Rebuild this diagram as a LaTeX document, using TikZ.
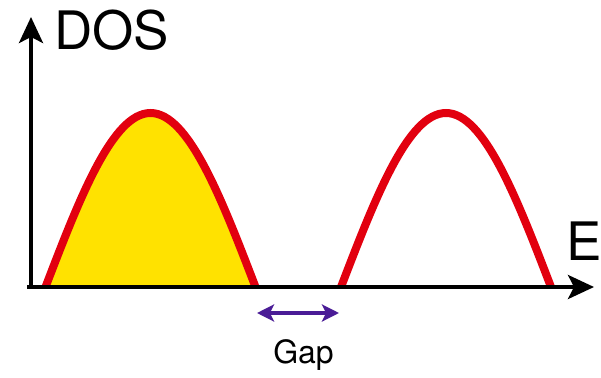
\documentclass[tikz,border=0pt]{standalone}
\usepackage{fontspec}
\setmainfont{TeX Gyre Heros}
\usetikzlibrary{arrows.meta,positioning,calc}
\definecolor{rojo}{HTML}{E2000F}
\definecolor{amarillo}{HTML}{FFE200}
\definecolor{morado}{HTML}{4A1C96}

\begin{document}
\begin{tikzpicture}[x=1pt,y=-1pt,
  eje/.style={-{Stealth[length=26pt,width=24pt,inset=6pt]},line width=3.8pt,color=black},
  banda/.style={draw=rojo,line width=8pt},
  relleno/.style={fill=amarillo},
  etiqueta/.style={inner sep=0pt,anchor=base west,font=\fontsize{53}{53}\selectfont},
  flechagap/.style={{Stealth[length=17pt,width=17pt,inset=4pt]}-{Stealth[length=17pt,width=17pt,inset=4pt]},
                    line width=3.8pt,color=morado}]
  \useasboundingbox (0,0) rectangle (601,377);
  % bandas
  \coordinate (a1) at (45.5,287);  \coordinate (p1) at (150.5,113); \coordinate (b1) at (255.5,287);
  \coordinate (a2) at (341,287);   \coordinate (p2) at (446,113);   \coordinate (b2) at (551,287);
  \fill[relleno] (a1) sin (p1) cos (b1) -- cycle;
  \draw[banda] (a1) sin (p1) cos (b1);
  \draw[banda] (a2) sin (p2) cos (b2);
  % ejes
  \coordinate (o) at (31,289);
  \coordinate (ytop) at (31,17);
  \coordinate (xo) at (27,287);
  \coordinate (xend) at (594,287);
  \draw[eje] (o) -- (ytop);
  \draw[eje] (xo) -- (xend);
  \node[etiqueta] (dos) at (54,50) {DOS};
  \node[etiqueta] (e) at (566,260) {E};
  % gap
  \coordinate (g1) at (257,313);
  \coordinate (g2) at (339,313);
  \draw[flechagap] (g1) -- (g2);
  \node[inner sep=0pt,anchor=base,font=\fontsize{32}{32}\selectfont] (gap) at (303.5,363) {Gap};
\end{tikzpicture}
\end{document}
